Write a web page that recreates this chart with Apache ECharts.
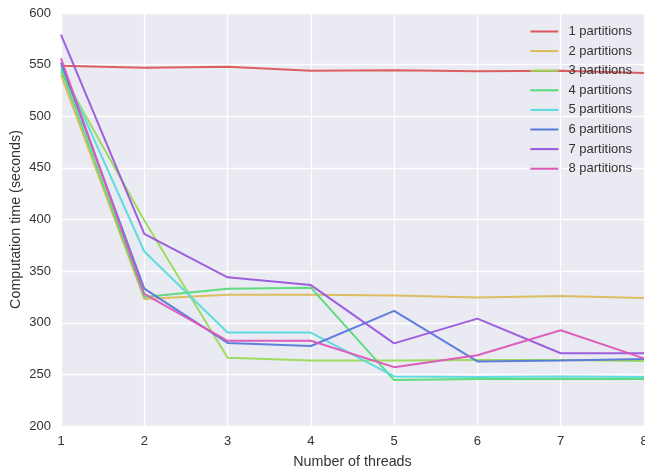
<!DOCTYPE html>
<html>
<head>
<meta charset="utf-8">
<script src="https://cdn.jsdelivr.net/npm/echarts@6/dist/echarts.min.js"></script>
<style>html,body{margin:0;padding:0;background:#fff}#c{width:645px;height:472px}</style>
</head>
<body>
<div id="c"></div>
<script>
const threads = [1, 2, 3, 4, 5, 6, 7, 8];
const seriesNames = ['1 partitions','2 partitions','3 partitions','4 partitions','5 partitions','6 partitions','7 partitions','8 partitions'];
const p1 = [549, 547, 548, 544, 544.5, 543.5, 544, 542];
const p2 = [540, 323, 327, 327, 326.5, 324.5, 326, 324];
const p3 = [543, 399, 266, 263.5, 263.5, 264, 264, 263];
const p4 = [546, 325, 333, 334, 244.5, 245.5, 245.5, 245.5];
const p5 = [549, 369, 290.5, 290.5, 248, 247.5, 248, 247.5];
const p6 = [552, 333, 280.5, 277.5, 311.5, 262.5, 263.5, 265];
const p7 = [579, 386, 344, 336.5, 280, 304, 270.5, 270.5];
const p8 = [556, 328, 282.5, 282.5, 257, 268.5, 292.8, 265.5];
const values = [p1, p2, p3, p4, p5, p6, p7, p8];
const colors = ['#db5757','#dbba57','#99db57','#57db78','#57dbdb','#5778db','#9957db','#db57ba'];

const chart = echarts.init(document.getElementById('c'), null, {renderer: 'canvas'});
const font = 'Liberation Sans, Arial, sans-serif';
chart.setOption({
  animation: false,
  color: colors,
  grid: {left: 61, right: 1, top: 13, bottom: 46, backgroundColor: '#eaeaf2', show: true, borderWidth: 0,
         containLabel: false, outerBoundsMode: 'none'},
  legend: {
    orient: 'vertical', right: 8, top: 20,
    itemWidth: 28, itemHeight: 10, itemGap: 6.6,
    icon: 'path://M0,4 L28,4 L28,6 L0,6 Z',
    textStyle: {fontFamily: font, fontSize: 13, color: '#333', padding: [0,0,0,5]},
    data: seriesNames
  },
  xAxis: {
    type: 'value', min: 1, max: 8, interval: 1,
    name: 'Number of threads', nameLocation: 'middle', nameGap: 29, nameMoveOverlap: false,
    nameTextStyle: {fontFamily: font, fontSize: 14.3, color: '#333'},
    axisLine: {show: false}, axisTick: {show: false},
    axisLabel: {fontFamily: font, fontSize: 13, color: '#333', margin: 9},
    splitLine: {show: true, lineStyle: {color: '#fff', width: 1.3}}
  },
  yAxis: {
    type: 'value', min: 200, max: 600, interval: 50,
    name: 'Computation time (seconds)', nameLocation: 'middle', nameGap: 38, nameMoveOverlap: false,
    nameTextStyle: {fontFamily: font, fontSize: 14.3, color: '#333'},
    axisLine: {show: false}, axisTick: {show: false},
    axisLabel: {fontFamily: font, fontSize: 13, color: '#333', margin: 10},
    splitLine: {show: true, lineStyle: {color: '#fff', width: 1.3}}
  },
  series: values.map((v, i) => ({
    name: seriesNames[i],
    type: 'line',
    symbol: 'none',
    data: threads.map((t, j) => [t, v[j]]),
    lineStyle: {width: 2, color: colors[i], opacity: 0.95},
    itemStyle: {color: colors[i]}
  }))
});
</script>
</body>
</html>
